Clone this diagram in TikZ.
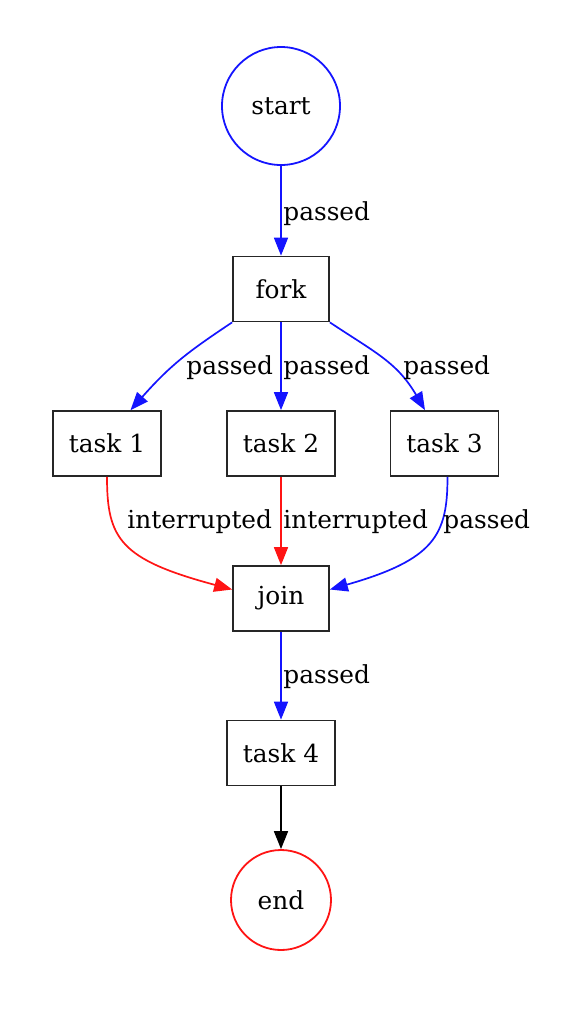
\documentclass[tikz,border=0pt]{standalone}
\usepackage{fontspec}
\setmainfont{DejaVu Serif}
\usetikzlibrary{arrows.meta}
\definecolor{eblue}{RGB}{20,20,255}
\definecolor{ered}{RGB}{255,20,20}
\begin{document}
\begin{tikzpicture}[x=0.5pt,y=-0.5pt,
  font=\fontsize{12.4}{14}\selectfont,
  circ/.style={circle,draw,line width=0.9pt,inner sep=0pt},
  box/.style={rectangle,draw=black!85,line width=0.85pt,inner sep=0pt,minimum height=32.5pt},
  lbl/.style={inner sep=0pt,anchor=base west},
  edge/.style={line width=0.85pt,-{Triangle[length=9pt,width=7pt]}},
  bedge/.style={edge,draw=eblue},
  redge/.style={edge,draw=ered},
  kedge/.style={edge,draw=black}]
\useasboundingbox (0,0) rectangle (574,1018);
\node[circ,draw=eblue,minimum size=59pt] (start) at (281,106) {start};
\node[box,minimum width=48pt] (fork) at (281,289) {fork};
\node[box,minimum width=54pt] (task1) at (107,443.5) {task 1};
\node[box,minimum width=54pt] (task2) at (281,443.5) {task 2};
\node[box,minimum width=54pt] (task3) at (444.5,443.5) {task 3};
\node[box,minimum width=48pt] (join) at (281,598.5) {join};
\node[box,minimum width=54pt] (task4) at (281,753) {task 4};
\node[circ,draw=ered,minimum size=50pt] (end) at (281,900) {end};

\draw[bedge] (start) -- (fork);
\node[lbl] (l1) at (283,220) {passed};
\draw[bedge] (fork.south west) .. controls +(-45,30) and +(40,-45) .. ([xshift=11.75pt]task1.north);
\node[lbl] (l2) at (186,374) {passed};
\draw[bedge] (fork) -- (task2);
\node[lbl] (l3) at (283,374) {passed};
\draw[bedge] (fork.south east) .. controls +(45,30) and +(-28,-48) .. ([xshift=-9.75pt]task3.north);
\node[lbl] (l4) at (403,374) {passed};
\draw[redge] (task1.south) .. controls +(0,62) and +(-112,-30) .. ([yshift=4.5pt]join.west);
\node[lbl] (l5) at (127,528) {interrupted};
\draw[redge] (task2) -- (join);
\node[lbl] (l6) at (283,528) {interrupted};
\draw[bedge] ([xshift=1.5pt]task3.south) .. controls +(0,58) and +(105,-30) .. ([yshift=4.5pt]join.east);
\node[lbl] (l7) at (443,528) {passed};
\draw[bedge] (join) -- (task4);
\node[lbl] (l8) at (283,683) {passed};
\draw[kedge] (task4) -- (end);
\end{tikzpicture}
\end{document}
